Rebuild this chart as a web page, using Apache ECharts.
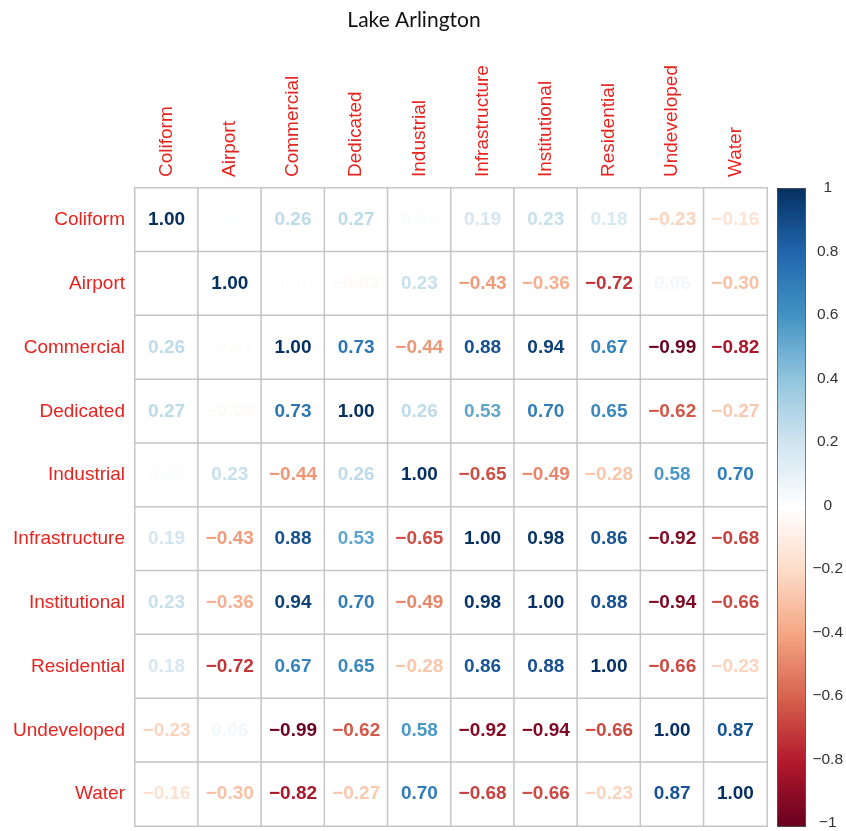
<!DOCTYPE html>
<html>
<head>
<meta charset="utf-8">
<script src="https://cdn.jsdelivr.net/npm/echarts@6/dist/echarts.min.js"></script>
<style>
  html, body { margin: 0; padding: 0; background: #fff; }
  #chart { width: 846px; height: 831px; }
</style>
</head>
<body>
<div id="chart"></div>
<script>
// Variables of the correlation matrix
const variables = ['Coliform', 'Airport', 'Commercial', 'Dedicated', 'Industrial',
  'Infrastructure', 'Institutional', 'Residential', 'Undeveloped', 'Water'];

// One row of coefficients per variable (same order as columns)
const rowColiform       = [ 1.00,  0.01,  0.26,  0.27,  0.02,  0.19,  0.23,  0.18, -0.23, -0.16];
const rowAirport        = [ 0.01,  1.00, -0.01, -0.03,  0.23, -0.43, -0.36, -0.72,  0.06, -0.30];
const rowCommercial     = [ 0.26, -0.01,  1.00,  0.73, -0.44,  0.88,  0.94,  0.67, -0.99, -0.82];
const rowDedicated      = [ 0.27, -0.03,  0.73,  1.00,  0.26,  0.53,  0.70,  0.65, -0.62, -0.27];
const rowIndustrial     = [ 0.02,  0.23, -0.44,  0.26,  1.00, -0.65, -0.49, -0.28,  0.58,  0.70];
const rowInfrastructure = [ 0.19, -0.43,  0.88,  0.53, -0.65,  1.00,  0.98,  0.86, -0.92, -0.68];
const rowInstitutional  = [ 0.23, -0.36,  0.94,  0.70, -0.49,  0.98,  1.00,  0.88, -0.94, -0.66];
const rowResidential    = [ 0.18, -0.72,  0.67,  0.65, -0.28,  0.86,  0.88,  1.00, -0.66, -0.23];
const rowUndeveloped    = [-0.23,  0.06, -0.99, -0.62,  0.58, -0.92, -0.94, -0.66,  1.00,  0.87];
const rowWater          = [-0.16, -0.30, -0.82, -0.27,  0.70, -0.68, -0.66, -0.23,  0.87,  1.00];

const rows = [rowColiform, rowAirport, rowCommercial, rowDedicated, rowIndustrial,
  rowInfrastructure, rowInstitutional, rowResidential, rowUndeveloped, rowWater];

// Diverging palette from -1 to 1
const palette = ['#67001F', '#B2182B', '#D6604D', '#F4A582', '#FDDBC7', '#FFFFFF',
  '#D1E5F0', '#92C5DE', '#4393C3', '#2166AC', '#053061'];

function hexToRgb(h) {
  return [parseInt(h.slice(1, 3), 16), parseInt(h.slice(3, 5), 16), parseInt(h.slice(5, 7), 16)];
}
function colorFor(v) {
  const t = (Math.max(-1, Math.min(1, v)) + 1) / 2 * (palette.length - 1);
  const i = Math.min(palette.length - 2, Math.floor(t));
  const f = t - i;
  const a = hexToRgb(palette[i]), b = hexToRgb(palette[i + 1]);
  const c = a.map((x, k) => Math.round(x + (b[k] - x) * f));
  return 'rgb(' + c.join(',') + ')';
}
function fmt(v) {
  const s = Math.abs(v).toFixed(2);
  return v < 0 ? '\u2212' + s : s;
}

const cells = [];
rows.forEach((row, r) => {
  row.forEach((v, c) => {
    cells.push({
      value: [c, r, v],
      label: { color: colorFor(v) }
    });
  });
});

const labelRed = '#e3241f';
const sans = 'Arial, "Liberation Sans", sans-serif';
const chart = echarts.init(document.getElementById('chart'), null, { renderer: 'canvas' });
chart.setOption({
  animation: false,
  backgroundColor: '#fff',
  title: {
    text: 'Lake Arlington',
    left: 409, top: 5, textAlign: 'center',
    textStyle: { fontFamily: 'Lato', fontWeight: 'normal', fontSize: 21, color: '#111' }
  },
  grid: [
    { left: 135, top: 188, width: 632, height: 638 },
    { left: 777, top: 188, width: 28, height: 638 }
  ],
  xAxis: [
    {
      type: 'category', data: variables, position: 'top', gridIndex: 0,
      axisLine: { show: false }, axisTick: { show: false }, splitLine: { show: false },
      axisLabel: { rotate: -90, margin: 11, color: labelRed, fontSize: 19, fontFamily: sans, interval: 0 }
    },
    { type: 'value', gridIndex: 1, show: false, min: 0, max: 1 }
  ],
  yAxis: [
    {
      type: 'category', data: variables, inverse: true, gridIndex: 0,
      axisLine: { show: false }, axisTick: { show: false }, splitLine: { show: false },
      axisLabel: { margin: 10, color: labelRed, fontSize: 19, fontFamily: sans, interval: 0 }
    },
    {
      type: 'value', gridIndex: 1, position: 'right', min: -1, max: 1, interval: 0.2,
      axisLine: { show: false }, splitLine: { show: false },
      axisTick: { show: true, length: 5, lineStyle: { color: '#333', width: 1 } },
      axisLabel: {
        margin: 23, color: '#333', fontSize: 15.5, fontFamily: sans, align: 'center',
        formatter: v => {
          const r = Math.round(v * 10) / 10;
          const s = String(Math.abs(r));
          return r < 0 ? '\u2212' + s : s;
        }
      }
    }
  ],
  visualMap: {
    type: 'continuous', min: -1, max: 1, seriesIndex: 1,
    calculable: false, realtime: false, text: null, showLabel: false,
    left: 777, top: 188, itemWidth: 28, itemHeight: 638, padding: 0,
    borderColor: '#333', borderWidth: 1,
    inRange: { color: palette }, hoverLink: false
  },
  series: [
    {
      type: 'heatmap', xAxisIndex: 0, yAxisIndex: 0, data: cells,
      itemStyle: { color: '#fff', borderColor: '#c6c6c6', borderWidth: 1.5 },
      label: {
        show: true, fontSize: 19, fontWeight: 'bold', fontFamily: sans,
        formatter: p => fmt(p.value[2])
      },
      emphasis: { disabled: true }
    },
    {
      type: 'scatter', xAxisIndex: 1, yAxisIndex: 1, data: [], silent: true
    }
  ]
});
</script>
</body>
</html>
